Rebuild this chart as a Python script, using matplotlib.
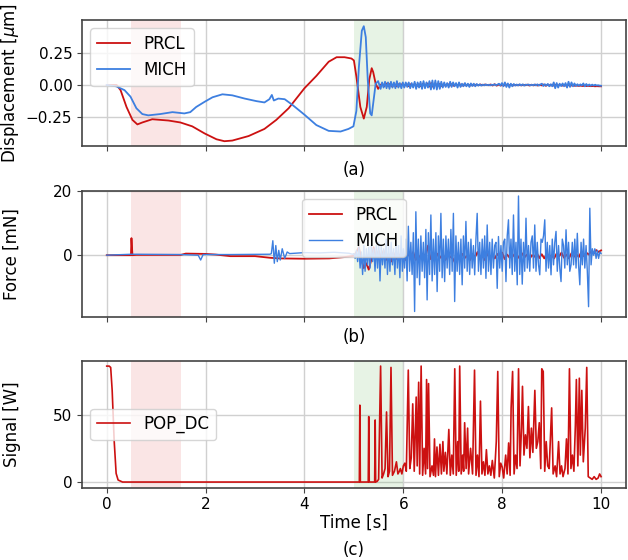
import numpy as np
import matplotlib.pyplot as plt

# ---------------- data ----------------
# (a) displacement [um]
prcl_disp_t = [0, 0.2, 0.28, 0.4, 0.52, 0.62, 0.72, 0.92, 1.25, 1.49, 1.73, 1.98, 2.22, 2.38,
               2.54, 2.87, 3.19, 3.43, 3.68, 4.0, 4.24, 4.49, 4.65, 4.81, 4.95, 5.0, 5.05,
               5.13, 5.2, 5.26, 5.31, 5.36, 5.39, 5.44, 5.49, 5.54]
prcl_disp_v = [0, 0, -0.04, -0.17, -0.27, -0.305, -0.29, -0.265, -0.275, -0.29, -0.32, -0.375,
               -0.42, -0.435, -0.43, -0.395, -0.34, -0.27, -0.18, -0.025, 0.07, 0.18, 0.215,
               0.215, 0.205, 0.19, 0.065, -0.17, -0.26, -0.17, 0.04, 0.13, 0.10, 0.01, -0.03, 0.0]
prcl_disp_tail = [0.01, -0.01, 0.012, -0.008, 0.01, -0.012, 0.008, -0.01, 0.006, -0.008, 0.01,
                  -0.006, 0.008, -0.01, 0.006, -0.006, 0.008, -0.008, 0.006, -0.01, 0.01, -0.008,
                  0.012, -0.012, 0.015, -0.015, 0.012, -0.01, 0.008, -0.008, 0.006, -0.006, 0.008,
                  -0.005, 0.006, -0.006, 0.004, -0.004, 0.005, -0.005, 0.004, -0.003, 0.003, -0.004,
                  0.002, -0.003, 0.003, -0.002, 0.004, -0.002, 0.003, 0.002, -0.002, 0.004, -0.004,
                  0.006, -0.005, 0.004, -0.004, 0.002, -0.002, 0.003, -0.003, 0.002, -0.003, 0.001,
                  -0.002, 0.002, -0.003, 0.002, -0.002, 0.003, -0.004, 0.002, -0.003, 0.003, -0.004,
                  0.002, -0.003, 0.004, -0.006, 0.003, -0.004, 0.002, -0.005, 0.003, -0.004, 0.001,
                  -0.005, 0.002, -0.006, 0.0, -0.005, -0.002, -0.006, -0.004, -0.007, -0.005,
                  -0.008, -0.006, -0.008, -0.007, -0.009, -0.008, -0.01, -0.009, -0.01, -0.01]

mich_disp_t = [0, 0.19, 0.36, 0.48, 0.6, 0.72, 0.84, 1.08, 1.33, 1.57, 1.69, 1.81, 1.98, 2.14,
               2.34, 2.54, 2.79, 3.03, 3.19, 3.29, 3.34, 3.38, 3.47, 3.6, 3.76, 4.0, 4.24, 4.49,
               4.73, 4.89, 4.99, 5.05, 5.10, 5.16, 5.2, 5.24, 5.28, 5.33, 5.36, 5.40, 5.44, 5.49,
               5.54]
mich_disp_v = [0, -0.01, -0.04, -0.09, -0.18, -0.225, -0.235, -0.225, -0.21, -0.22, -0.21, -0.17,
               -0.13, -0.095, -0.072, -0.08, -0.105, -0.125, -0.135, -0.11, -0.077, -0.12, -0.105,
               -0.11, -0.155, -0.23, -0.31, -0.355, -0.36, -0.34, -0.32, -0.2, 0.135, 0.42, 0.455,
               0.37, 0.04, -0.22, -0.235, -0.11, 0.01, 0.03, -0.03]
mich_disp_tail = [0.02, -0.02, 0.025, -0.025, 0.02, -0.03, 0.025, -0.02, 0.02, -0.025, 0.03, -0.02,
                  0.015, -0.025, 0.02, -0.02, 0.02, -0.015, 0.02, -0.025, 0.015, -0.02, 0.025,
                  -0.03, 0.02, -0.02, 0.025, -0.03, 0.03, -0.025, 0.02, -0.02, 0.03, -0.035, 0.035,
                  -0.03, 0.035, -0.035, 0.03, -0.03, 0.025, -0.02, 0.02, -0.015, 0.015, -0.02, 0.025,
                  -0.015, 0.02, -0.01, 0.015, -0.02, 0.02, -0.015, 0.01, -0.01, 0.015, -0.01, 0.01,
                  -0.015, 0.012, -0.008, 0.01, -0.01, 0.008, -0.005, 0.005, -0.005, 0.003, -0.003,
                  0.004, -0.002, 0.002, -0.003, 0.002, 0.0, 0.005, -0.002, 0.003, 0.01, -0.005,
                  0.015, -0.01, 0.02, -0.015, 0.012, -0.02, 0.01, -0.01, 0.008, -0.005, 0.004,
                  -0.004, 0.006, -0.003, 0.005, -0.005, 0.003, 0.0, 0.004, -0.003, 0.002, -0.002,
                  0.004, -0.003, 0.005, -0.004, 0.004, 0.01, -0.008, 0.006, -0.004, 0.008, -0.01,
                  0.006, -0.01, 0.02, -0.025, 0.015, -0.02, 0.01, -0.008, 0.012, -0.01, 0.015, -0.02,
                  0.025, -0.015, 0.02, -0.01, 0.012, -0.008, 0.006, -0.006, 0.005, -0.004, 0.012,
                  -0.01, 0.008, -0.006, 0.004, -0.006, 0.003, -0.005, 0.002, -0.004, -0.002, -0.005,
                  -0.006]

# (b) force [mN]
prcl_force_t = [0, 0.49, 0.5, 0.52, 0.6, 1.5, 1.6, 2.0, 2.2, 2.5, 3.0, 3.3, 3.5, 4.0, 4.5, 4.8,
                5.0, 5.05, 5.1, 5.15, 5.2, 5.25, 5.3, 5.35, 5.4, 5.45, 5.5, 5.55]
prcl_force_v = [0, 0, 5.3, 0, 0.1, 0.1, 0.5, 0.4, 0.2, -0.3, -0.3, -0.8, -1.0, -1.1, -1.0, -0.6,
                -0.2, 1.0, 2.5, -1.0, -4.0, -2.5, -4.5, -1.5, 2.5, -1.0, 1.5, -1.0]
prcl_force_tail = [1.5, -1.5, 0.5, -2.0, 0.8, -1.2, 0.5, -1.0, 0.2, -1.5, 0.5, -0.8, 1.0, -1.5,
                   0.0, -1.0, 0.5, -0.5, 3.0, -1.2, 0.3, -1.0, 0.5, -0.8, 0.2, -1.5, 0.0, -0.5,
                   -1.0, -2.5, -0.3, -1.2, 0.4, -0.8, 0.0, -1.5, 0.3, -0.6, 1.0, -1.0, -0.2, -1.5,
                   0.5, -0.8, 0.0, -1.0, 0.4, -0.6, 0.8, -1.2, 0.2, -0.8, 0.5, -0.5, 0.0, -1.0,
                   0.6, -0.7, 0.2, -1.3, 0.0, -0.5, 0.7, -0.9, 0.3, -1.0, 0.4, -0.6, 0.0, -1.0,
                   0.5, -0.4, 0.8, -0.8, 0.2, -1.0, 0.6, -0.5, 0.3, -0.6, 1.0, -0.3, 0.8, 0.2, 1.2,
                   0.5, 1.6, 1.0, 1.5]

mich_force_t = [0, 0.5, 1.5, 1.85, 1.9, 1.95, 2.5, 3.3, 3.33, 3.36, 3.39, 3.42, 3.45, 3.48,
                3.51, 3.55, 3.6, 3.65, 3.7, 4.0, 4.3, 4.6, 4.9, 4.97]
mich_force_v = [0, 0.3, 0.2, 0.0, -1.5, 0.2, 0.2, 0.3, 0.5, 4.5, -2.5, 3.0, -2.0, 1.5, -1.5,
                2.0, -1.0, 1.0, 0.5, 0.8, 0.7, 0.9, 0.6, 0.3]
mich_force_mid = [0.5, -1, 1.5, -2, 2.5, -4, 1, -6, 3, -5, 2, -3, 2.5, -4, 3, -2, 2, -5, 3, -4, 4,
                  -8, 3, -3, 2, -4, 5, -6, 3, -5, 4, -3, 2, -6, 5, -4, 3, -7, 6, -5]
mich_force_tail = [2, -4, 5, -8, 9, -5, 4, -6, 7, -17.5, 13.5, -7, 5, -9.2, 6, -5, 4, -7, 8, -13.9,
                   7, -6, 12.5, -8, 5, -6, 7, -11.3, 6, -5, 13, -7, 5, -8.2, 6, -4, 5, -6, 8, -5,
                   13, -14.4, 6, -5, 4, -6, 5, -9.2, 6, -4, 10.5, -5, 4, -6, 5, -4, 3, -6.1, 5, 13,
                   -5, 4, -6, 5, -4, 6, -7.2, 9.4, -5, 4, -6, 5, -4, 3, 4, -10.3, 5.8, -4, 3, -5, 4,
                   5, -8.2, 6, 11, -4, 5, -6, 12.5, -5, 4, -9.2, 18.4, -6, 5, -9, 4, -5, 11.5, -4,
                   3, -5, 4, 6, -4, 9.4, -5, 4, -3, -6.1, 5, 4, 6, 11, -5, 4, -4, 3, -6.1, 5, -3,
                   4, 7.4, -5, 3, -4, -8.2, 5, 3, -4, 7.9, -3, 4, -5, -3, 4, -3, 5, -4, 6.8, -3,
                   -9.2, 4, -3, 5, -4, 3, -5, -16, 14.6, -3, 2, 0, 2, -1, 1.5, -1, 1, 0.5]

# (c) POP_DC signal [W]
pop_t = [0, 0.05, 0.08, 0.11, 0.15, 0.19, 0.23, 0.32, 5.08, 5.11, 5.12, 5.13, 5.28, 5.29, 5.30,
         5.31, 5.41, 5.42, 5.43, 5.44, 5.47, 5.50, 5.54, 5.57, 5.60, 5.63, 5.66, 5.69, 5.72,
         5.75, 5.78, 5.82, 5.86, 5.89, 5.92, 5.94, 5.97, 6.00, 6.03, 6.06, 6.10, 6.13, 6.16,
         6.19, 6.22, 6.26, 6.28, 6.31, 6.33, 6.36, 6.39, 6.42, 6.45, 6.47, 6.49, 6.51, 6.54,
         6.58, 6.61, 6.63, 6.65, 6.68, 6.71, 6.74, 6.77, 6.80, 6.82, 6.85, 6.88, 6.92, 6.95,
         6.98, 7.01, 7.04, 7.07, 7.10, 7.12, 7.14, 7.17, 7.20, 7.22, 7.24, 7.27, 7.30, 7.32,
         7.36, 7.40, 7.44, 7.47, 7.50, 7.53, 7.56, 7.59, 7.62, 7.65, 7.68, 7.71, 7.74, 7.77,
         7.80, 7.84, 7.88, 7.91, 7.94, 7.97, 8.00, 8.03, 8.07, 8.10, 8.13, 8.16, 8.18, 8.21,
         8.24, 8.27, 8.30, 8.33, 8.36, 8.39, 8.41, 8.44, 8.47, 8.50, 8.53, 8.56, 8.59, 8.62,
         8.66, 8.69, 8.72, 8.75, 8.78, 8.80, 8.83, 8.86, 8.89, 8.92, 8.95, 9.00, 9.03, 9.07,
         9.10, 9.14, 9.17, 9.20, 9.23, 9.27, 9.30, 9.33, 9.36, 9.39, 9.42, 9.45, 9.48, 9.50,
         9.53, 9.56, 9.58, 9.61, 9.64, 9.68, 9.71, 9.74, 9.78, 9.82, 9.86, 9.90, 9.94, 9.97,
         10.0]
pop_v = [86, 86, 85, 68, 31, 6.4, 1.5, 0, 0, 0, 57, 0, 0, 0, 48.5, 0, 0, 0, 46, 0, 0.5, 2, 86,
         3, 6, 10, 52, 4, 8, 85, 5, 8, 15, 6, 8, 10, 6, 12, 14, 8, 83, 10, 18, 58, 8, 63, 12, 74,
         6, 86, 5, 25, 6, 76, 10, 73, 4, 12, 5, 32, 4, 26, 5, 28, 6, 30, 8, 22, 6, 39, 5, 20, 6,
         84, 5, 30, 8, 86, 6, 20, 8, 44, 10, 40, 6, 25, 6, 83, 5, 20, 4, 60, 6, 15, 5, 24, 6, 12,
         5, 16, 3, 30, 82, 4, 14, 11, 3, 20, 6, 29, 5, 55, 82, 6, 20, 10, 84, 12, 40, 71, 20, 35,
         25, 56, 18, 40, 22, 68, 25, 30, 44, 10, 84, 82, 8, 30, 12, 10, 55, 6, 12, 4, 30, 6, 12,
         4, 10, 32, 6, 84, 10, 20, 8, 42, 76, 12, 77, 20, 68, 15, 40, 85, 4, 3, 2, 4, 2, 3, 6, 4]

red = "#cc1111"
blue = "#3d7fe0"

# ---------------- figure ----------------
fig = plt.figure(figsize=(6.28, 5.6), dpi=100)
left, width = 0.1306, 0.8659
ax_a = fig.add_axes([left, 0.7393, width, 0.2250])
ax_b = fig.add_axes([left, 0.4334, width, 0.2261], sharex=ax_a)
ax_c = fig.add_axes([left, 0.1291, width, 0.2263], sharex=ax_a)

t_a_p = np.concatenate([prcl_disp_t, np.linspace(5.57, 10, len(prcl_disp_tail))])
v_a_p = np.concatenate([prcl_disp_v, prcl_disp_tail])
t_a_m = np.concatenate([mich_disp_t, np.linspace(5.57, 10, len(mich_disp_tail))])
v_a_m = np.concatenate([mich_disp_v, mich_disp_tail])
ax_a.plot(t_a_p, v_a_p, color=red, lw=1.3, label="PRCL")
ax_a.plot(t_a_m, v_a_m, color=blue, lw=1.3, label="MICH")

t_b_p = np.concatenate([prcl_force_t, np.linspace(5.6, 10, len(prcl_force_tail))])
v_b_p = np.concatenate([prcl_force_v, prcl_force_tail])
t_b_m = np.concatenate([mich_force_t, np.linspace(5.0, 5.98, len(mich_force_mid)),
                        np.linspace(6.0, 10, len(mich_force_tail))])
v_b_m = np.concatenate([mich_force_v, mich_force_mid, mich_force_tail])
ax_b.plot(t_b_p, v_b_p, color=red, lw=1.3, label="PRCL")
ax_b.plot(t_b_m, v_b_m, color=blue, lw=1.0, label="MICH")

ax_c.plot(pop_t, pop_v, color=red, lw=1.2, label="POP_DC")

for ax in (ax_a, ax_b, ax_c):
    ax.axvspan(0.5, 1.5, color="#de5252", alpha=0.15, lw=0)
    ax.axvspan(5.0, 6.0, color="#5faf52", alpha=0.15, lw=0)
    ax.grid(True, color="#d0d0d0", lw=1.0)
    ax.set_axisbelow(True)
    ax.tick_params(labelsize=11, color="#444444")
    for s in ax.spines.values():
        s.set_color("#444444")
        s.set_linewidth(1.2)

ax_a.set_xlim(-0.5, 10.5)
ax_a.set_xticks(np.arange(0, 11, 2))
ax_a.tick_params(labelbottom=False)
ax_b.tick_params(labelbottom=False)

ax_a.set_ylim(-0.472, 0.503)
ax_a.set_yticks([-0.25, 0, 0.25])
ax_a.set_yticklabels(["\u22120.25", "0.00", "0.25"])
ax_b.set_ylim(-19.3, 20.05)
ax_b.set_yticks([0, 20])
ax_c.set_ylim(-4.2, 89.8)
ax_c.set_yticks([0, 50])

ax_a.set_ylabel(r"Displacement [$\mu$m]", fontsize=12)
ax_b.set_ylabel("Force [mN]", fontsize=12)
ax_c.set_ylabel("Signal [W]", fontsize=12)
for ax in (ax_a, ax_b, ax_c):
    ax.yaxis.set_label_coords(-0.112, 0.5)
ax_c.set_xlabel("Time [s]", fontsize=12, labelpad=1)

ax_a.legend(loc="upper left", fontsize=12)
ax_b.legend(loc="upper center", fontsize=12)
ax_c.legend(loc="center left", fontsize=12)

xc = (82 + 625.8) / 2 / 628
fig.text(xc, 1 - 170 / 560, "(a)", ha="center", va="center", fontsize=12)
fig.text(xc, 1 - 337 / 560, "(b)", ha="center", va="center", fontsize=12)
fig.text(xc, 1 - 550 / 560, "(c)", ha="center", va="center", fontsize=12)

fig.savefig("out.png", dpi=100)
